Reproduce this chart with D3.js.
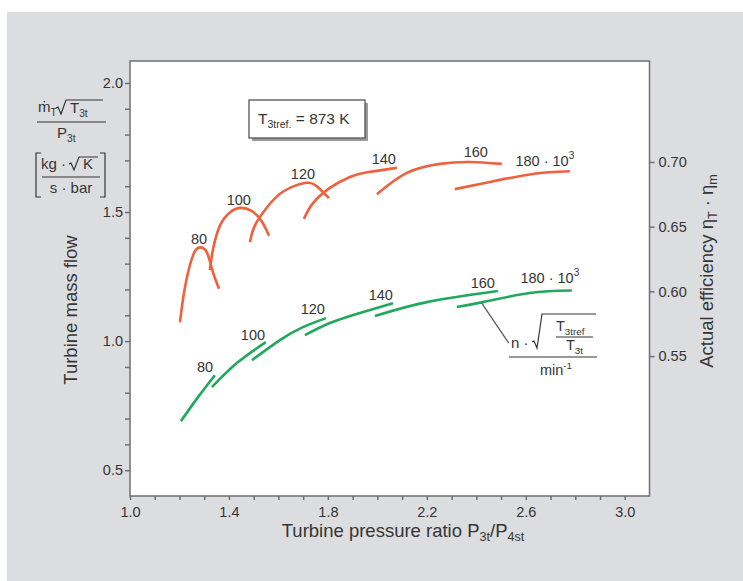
<!DOCTYPE html>
<html>
<head>
<meta charset="utf-8">
<script src="https://cdn.jsdelivr.net/npm/d3@7"></script>
<style>
  body { margin: 0; background: #fff; }
  text { font-family: "Liberation Sans", Arial, sans-serif; fill: #353535; }
</style>
</head>
<body>
<div id="chart"></div>
<script>
// Speed lines n*sqrt(T3tref/T3t), 1/min
const speeds = ['80', '100', '120', '140', '160', '180']

// Actual efficiency per speed line: [pressure ratio, eta]
const effCurves = [
  [[1.202, 0.576], [1.222, 0.603], [1.255, 0.628], [1.283, 0.634], [1.311, 0.630], [1.335, 0.615], [1.360, 0.602]],
  [[1.323, 0.6165], [1.335, 0.632], [1.364, 0.651], [1.404, 0.661], [1.444, 0.6645], [1.493, 0.662], [1.533, 0.654], [1.562, 0.643]],
  [[1.485, 0.638], [1.505, 0.651], [1.554, 0.665], [1.618, 0.677], [1.707, 0.6838], [1.756, 0.681], [1.804, 0.672]],
  [[1.703, 0.656], [1.739, 0.668], [1.808, 0.680], [1.889, 0.6884], [1.958, 0.692], [2.079, 0.6954]],
  [[1.998, 0.675], [2.119, 0.6915], [2.253, 0.6985], [2.374, 0.700], [2.503, 0.6985]],
  [[2.313, 0.679], [2.455, 0.6845], [2.628, 0.6907], [2.778, 0.6928]]
]

// Turbine mass flow per speed line: [pressure ratio, mass flow]
const massCurves = [
  [[1.206, 0.690], [1.275, 0.783], [1.343, 0.868]],
  [[1.331, 0.822], [1.432, 0.915], [1.549, 0.996]],
  [[1.493, 0.926], [1.606, 1.004], [1.699, 1.054], [1.792, 1.089]],
  [[1.707, 1.023], [1.808, 1.070], [1.929, 1.109], [2.063, 1.147]],
  [[1.990, 1.097], [2.200, 1.151], [2.487, 1.194]],
  [[2.321, 1.132], [2.426, 1.151], [2.616, 1.186], [2.786, 1.196]]
]

// where the speed names sit (data units)
const effLabelAt = [[1.279, 0.6405], [1.440, 0.6706], [1.699, 0.6907], [2.026, 0.7023], [2.398, 0.7077], [2.677, 0.7008]]
const massLabelAt = [[1.303, 0.899], [1.497, 1.023], [1.739, 1.124], [2.014, 1.178], [2.426, 1.225], [2.697, 1.244]]

const xTickLabels = [1.0, 1.4, 1.8, 2.2, 2.6, 3.0]
const yTickLabels = [0.5, 1.0, 1.5, 2.0]
const effTickLabels = [0.55, 0.60, 0.65, 0.70]

const W = 743
const H = 581
const RED = '#ef613c'
const GREEN = '#20a85c'
const AXIS = '#707070'
const INK = '#353535'

const svg = d3.select('#chart')
  .append('svg')
  .attr('width', W)
  .attr('height', H)

// grey panel
svg.append('rect')
  .attr('x', 7).attr('y', 12)
  .attr('width', W - 7).attr('height', H - 12)
  .attr('fill', '#dcdddf')

const x = d3.scaleLinear().domain([1.0, 3.1]).range([130, 649.5])
const y = d3.scaleLinear().domain([0.4, 2.085]).range([496, 61])
const yEff = d3.scaleLinear().domain([0.4419, 0.778]).range([496, 61])

// plot area
svg.append('rect')
  .attr('x', x(1.0)).attr('y', 61)
  .attr('width', x(3.1) - x(1.0)).attr('height', 435)
  .attr('fill', '#fff')
  .attr('stroke', AXIS)
  .attr('stroke-width', 1.5)

const fmt = d3.format('.1f')

// bottom axis
const xAxis = svg.append('g')
  .attr('transform', 'translate(0,496)')
  .call(d3.axisBottom(x)
    .tickValues(d3.range(10, 31).map(d => d / 10))
    .tickSize(4)
    .tickFormat(d => xTickLabels.some(v => Math.abs(v - d) < 1e-6) ? fmt(d) : ''))
xAxis.select('.domain').remove()
xAxis.selectAll('line').attr('stroke', AXIS).attr('stroke-width', 1.5)
xAxis.selectAll('text').attr('font-size', 14.5).attr('dy', '0.95em').attr('fill', INK)

// left axis
const yAxis = svg.append('g')
  .attr('transform', 'translate(130,0)')
  .call(d3.axisLeft(y)
    .tickValues(d3.range(5, 21).map(d => d / 10))
    .tickSize(5)
    .tickFormat(d => yTickLabels.some(v => Math.abs(v - d) < 1e-6) ? fmt(d) : ''))
yAxis.select('.domain').remove()
yAxis.selectAll('line').attr('stroke', AXIS).attr('stroke-width', 1.5)
yAxis.selectAll('text').attr('font-size', 14.5).attr('x', -7).attr('fill', INK)

// right axis
const rAxis = svg.append('g')
  .attr('transform', 'translate(649.5,0)')
  .call(d3.axisRight(yEff)
    .tickValues(effTickLabels)
    .tickSize(5)
    .tickFormat(d3.format('.2f')))
rAxis.select('.domain').remove()
rAxis.selectAll('line').attr('stroke', AXIS).attr('stroke-width', 1.5)
rAxis.selectAll('text').attr('font-size', 14.5).attr('x', 9).attr('fill', INK)

// curves
const line = sc => d3.line()
  .x(d => x(d[0]))
  .y(d => sc(d[1]))
  .curve(d3.curveNatural)

svg.append('g').selectAll('path')
  .data(effCurves)
  .join('path')
  .attr('d', line(yEff))
  .attr('fill', 'none')
  .attr('stroke', RED)
  .attr('stroke-width', 2.6)

svg.append('g').selectAll('path')
  .data(massCurves)
  .join('path')
  .attr('d', line(y))
  .attr('fill', 'none')
  .attr('stroke', GREEN)
  .attr('stroke-width', 2.6)

// speed labels
function speedLabel (g, d, i) {
  const t = g.append('text')
    .attr('text-anchor', 'middle')
    .attr('dominant-baseline', 'central')
    .attr('font-size', 14.5)
  t.append('tspan').text(speeds[i] + (i === speeds.length - 1 ? ' · 10' : ''))
  if (i === speeds.length - 1) {
    t.append('tspan').attr('font-size', 10).attr('dy', -6).text('3')
  }
  return t
}
effLabelAt.forEach((d, i) => {
  speedLabel(svg, d, i).attr('x', x(d[0])).attr('y', yEff(d[1]))
})
massLabelAt.forEach((d, i) => {
  speedLabel(svg, d, i).attr('x', x(d[0])).attr('y', y(d[1]))
})

// text with sub/superscripts
function subText (g, parts, size) {
  const t = g.append('text').attr('font-size', size)
  parts.forEach(p => {
    const s = t.append('tspan').text(p[0])
    if (p[1] === 'sub') s.attr('font-size', size * 0.68).attr('dy', 4)
    if (p[1] === 'sup') s.attr('font-size', size * 0.68).attr('dy', -6)
    if (p[1] === 'back') s.attr('dy', -4)
  })
  return t
}

// axis titles
subText(svg, [['Turbine pressure ratio P'], ['3t', 'sub'], ['/P', 'back'], ['4st', 'sub']], 18.5)
  .attr('x', 403).attr('y', 537).attr('text-anchor', 'middle')

svg.append('text')
  .attr('font-size', 18.5)
  .attr('text-anchor', 'middle')
  .attr('transform', 'translate(77,310) rotate(-90)')
  .text('Turbine mass flow')

subText(svg, [['Actual efficiency η'], ['T', 'sub'], [' · η', 'back'], ['m', 'sub']], 18.5)
  .attr('text-anchor', 'middle')
  .attr('transform', 'translate(713,271) rotate(-90)')

// radical sign, baseline at y, opening at x, overline to x2
function radical (g, x0, yb, top, x2) {
  g.append('path')
    .attr('d', `M${x0},${yb - 5} L${x0 + 2},${yb - 6} L${x0 + 5},${yb + 1} L${x0 + 10},${top} L${x2},${top}`)
    .attr('fill', 'none')
    .attr('stroke', INK)
    .attr('stroke-width', 1.2)
}

// left unit label
const unit = svg.append('g')
subText(unit, [['ṁ'], ['T', 'sub']], 15).attr('x', 38).attr('y', 112)
radical(unit, 56, 113, 100, 103)
subText(unit, [['T'], ['3t', 'sub']], 15).attr('x', 70).attr('y', 113)
unit.append('line').attr('x1', 37).attr('x2', 106).attr('y1', 122).attr('y2', 122)
  .attr('stroke', INK).attr('stroke-width', 1.2)
subText(unit, [['P'], ['3t', 'sub']], 15).attr('x', 57).attr('y', 138)

unit.append('path')
  .attr('d', 'M41,153 L36,153 L36,197 L41,197 M100,153 L105,153 L105,197 L100,197')
  .attr('fill', 'none').attr('stroke', INK).attr('stroke-width', 1.2)
subText(unit, [['kg ·']], 15).attr('x', 41).attr('y', 169)
radical(unit, 69, 169, 157, 98)
subText(unit, [['K']], 15).attr('x', 83).attr('y', 169)
unit.append('line').attr('x1', 42).attr('x2', 100).attr('y1', 177).attr('y2', 177)
  .attr('stroke', INK).attr('stroke-width', 1.2)
subText(unit, [['s · bar']], 15).attr('x', 71).attr('y', 193).attr('text-anchor', 'middle')

// reference temperature box
svg.append('rect')
  .attr('x', 252).attr('y', 103).attr('width', 116).attr('height', 38)
  .attr('fill', '#9a9a9a')
svg.append('rect')
  .attr('x', 249).attr('y', 100).attr('width', 116).attr('height', 38)
  .attr('fill', '#fff').attr('stroke', '#555').attr('stroke-width', 1.3)
subText(svg, [['T'], ['3tref.', 'sub'], [' = 873 K', 'back']], 15.5)
  .attr('x', 258).attr('y', 124)

// speed parameter annotation
const ann = svg.append('g')
ann.append('line')
  .attr('x1', x(2.422)).attr('y1', y(1.147))
  .attr('x2', x(2.531)).attr('y2', y(0.992))
  .attr('stroke', '#555').attr('stroke-width', 1.2)
subText(ann, [['n ·']], 15).attr('x', 511).attr('y', 348)
radical(ann, 532, 347, 314, 596)
subText(ann, [['T'], ['3tref', 'sub']], 14.5).attr('x', 556).attr('y', 331)
ann.append('line').attr('x1', 556).attr('x2', 593).attr('y1', 337).attr('y2', 337)
  .attr('stroke', INK).attr('stroke-width', 1.2)
subText(ann, [['T'], ['3t', 'sub']], 14.5).attr('x', 566).attr('y', 350)
ann.append('line').attr('x1', 509).attr('x2', 597).attr('y1', 357).attr('y2', 357)
  .attr('stroke', INK).attr('stroke-width', 1.2)
subText(ann, [['min'], ['-1', 'sup']], 14.5).attr('x', 556).attr('y', 375).attr('text-anchor', 'middle')
</script>
</body>
</html>
